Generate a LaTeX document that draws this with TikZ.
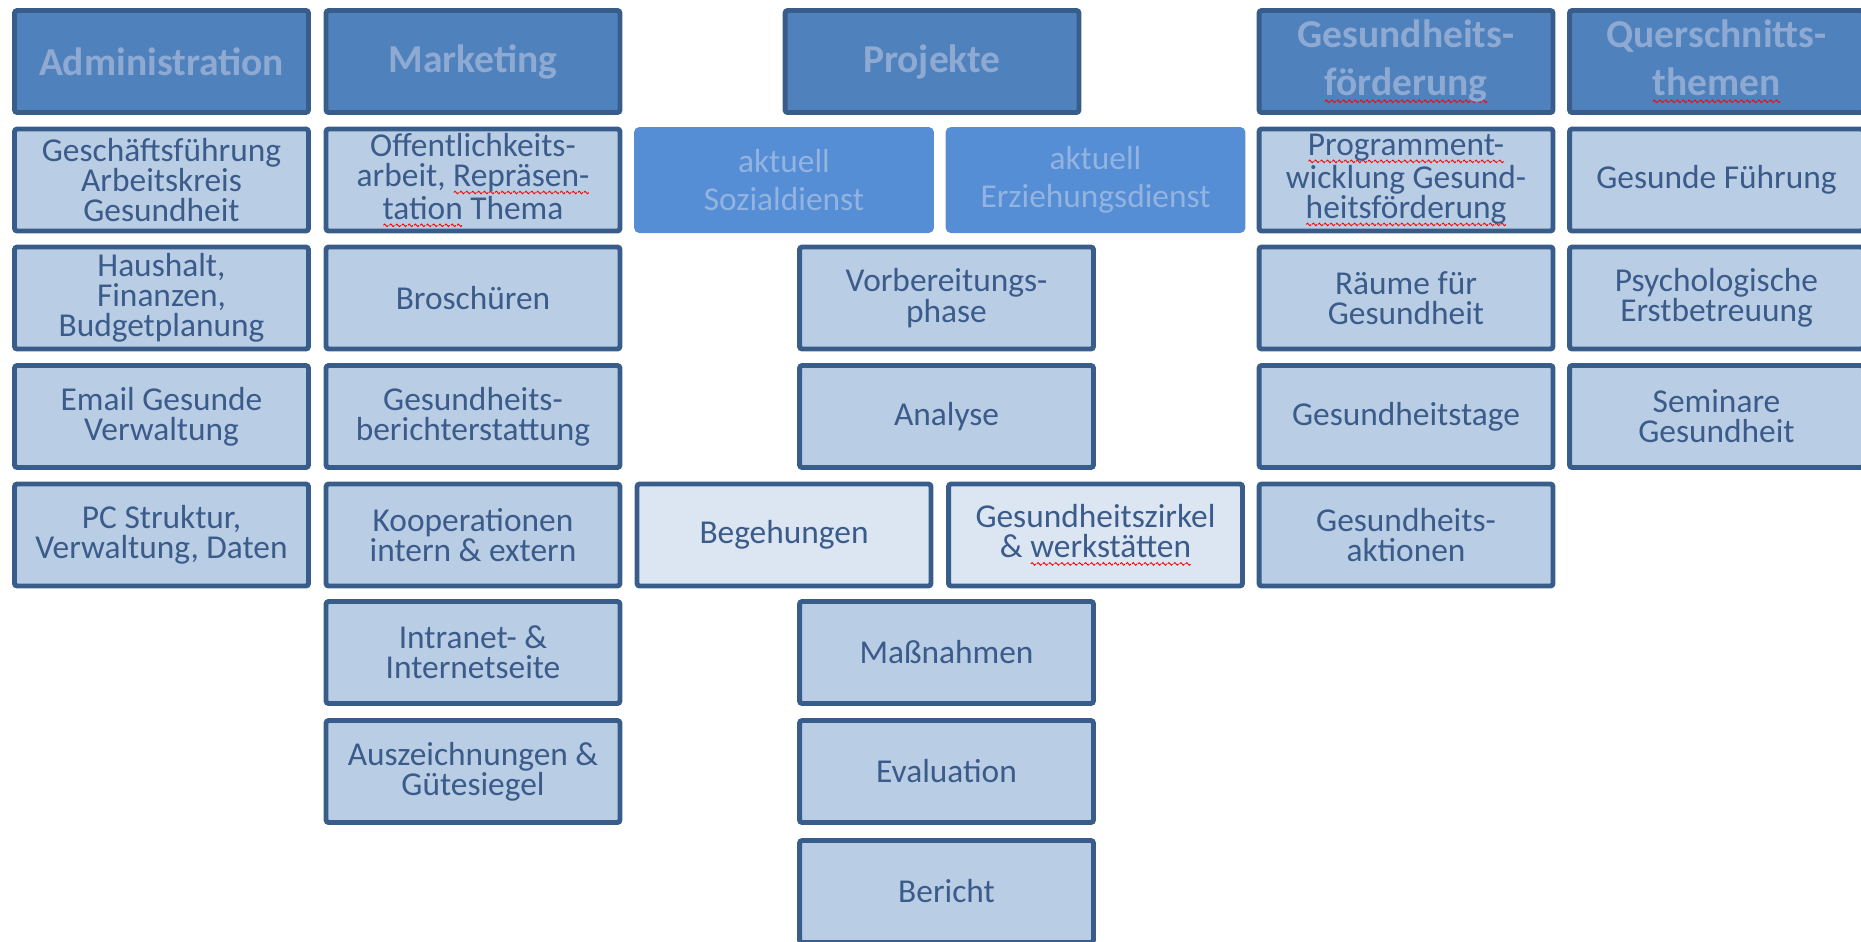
\documentclass[tikz,border=0pt]{standalone}
\usepackage{fontspec}
\setmainfont{Carlito}

\definecolor{kopfblau}{HTML}{4F81BD}
\definecolor{randblau}{HTML}{385D8A}
\definecolor{feldblau}{HTML}{B9CDE5}
\definecolor{hellblau}{HTML}{DCE6F2}
\definecolor{aktblau}{HTML}{558ED5}
\definecolor{schrift}{HTML}{3B5B8A}
\definecolor{kopfschrift}{HTML}{8FAAD2}
\definecolor{aktschrift}{HTML}{93B3E0}

% rote Wellenlinie unter einem Wort
\newsavebox\wellenbox
\newcommand\welle[1]{\leavevmode\setbox0\hbox{#1}%
  \rlap{\lower4.5pt\hbox to\wd0{\xleaders\copy\wellenbox\hfill}}\box0\relax}

\tikzset{
  kasten/.style={rectangle,rounded corners=1.5pt,draw=randblau,line width=2.8pt,
    minimum width=5.88cm,minimum height=2.04cm,align=center,inner sep=0pt},
  kopf/.style={kasten,fill=kopfblau,text=kopfschrift,font=\fontsize{22.5}{27}\selectfont\bfseries},
  feld/.style={kasten,fill=feldblau,text=schrift,font=\fontsize{19}{17.2}\selectfont},
  hell/.style={feld,fill=hellblau},
  aktuell/.style={rectangle,rounded corners=3pt,fill=aktblau,text=aktschrift,
    minimum width=6cm,minimum height=2.12cm,align=center,inner sep=0pt,
    font=\fontsize{19}{21.5}\selectfont}
}

\begin{document}
\sbox\wellenbox{\begin{pgfpicture}
  \pgfsetcolor{red}\pgfsetlinewidth{0.5pt}
  \pgfpathmoveto{\pgfpoint{0pt}{0pt}}
  \pgfpathsine{\pgfpoint{0.7pt}{0.75pt}}
  \pgfpathcosine{\pgfpoint{0.7pt}{-0.75pt}}
  \pgfpathsine{\pgfpoint{0.7pt}{-0.75pt}}
  \pgfpathcosine{\pgfpoint{0.7pt}{0.75pt}}
  \pgfusepath{stroke}
\end{pgfpicture}}
\begin{tikzpicture}[x=0.02cm,y=-0.02cm]
  \useasboundingbox (0,0) rectangle (1861,941);
  \clip (0,0) rectangle (1861,941);
  % Kopfzeile
  \node[kopf] (adm) at (161.5,61.5) {Administration};
  \node[kopf] (mkt) at (473,61.5) {Marketing};
  \node[kopf] (prj) at (932,61.5) {Projekte};
  \node[kopf] (gf) at (1406,61.5) {Gesundheits-\\\welle{förderung}};
  \node[kopf] (qs) at (1716.5,61.5) {Querschnitts-\\\welle{themen}};
  % Administration
  \node[feld] (adm1) at (161.5,180) {Geschäftsführung\\Arbeitskreis\\Gesundheit};
  \node[feld] (adm2) at (161.5,298) {Haushalt,\\Finanzen,\\Budgetplanung};
  \node[feld] (adm3) at (161.5,416.5) {Email Gesunde\\Verwaltung};
  \node[feld] (adm4) at (161.5,535) {PC Struktur,\\Verwaltung, Daten};
  % Marketing
  \node[feld] (mkt1) at (473,180) {Offentlichkeits-\\arbeit, \welle{Repräsen-}\\\welle{tation} Thema};
  \node[feld] (mkt2) at (473,298) {Broschüren};
  \node[feld] (mkt3) at (473,416.5) {Gesundheits-\\berichterstattung};
  \node[feld] (mkt4) at (473,535) {Kooperationen\\intern \& extern};
  \node[feld] (mkt5) at (473,652.5) {Intranet- \&\\Internetseite};
  \node[feld] (mkt6) at (473,771.5) {Auszeichnungen \&\\Gütesiegel};
  % Projekte
  \node[aktuell] (soz) at (784,180) {aktuell\\Sozialdienst};
  \node[aktuell] (erz) at (1095.5,180) {aktuell\\Erziehungsdienst};
  \node[feld] (vor) at (946.5,298) {Vorbereitungs-\\phase};
  \node[feld] (ana) at (946.5,416.5) {Analyse};
  \node[hell] (beg) at (784,535) {Begehungen};
  \node[hell] (zirk) at (1095.5,535) {Gesundheitszirkel\\\& \welle{werkstätten}};
  \node[feld] (mas) at (946.5,652.5) {Maßnahmen};
  \node[feld] (eva) at (946.5,771.5) {Evaluation};
  \node[feld] (ber) at (946.5,891.5) {Bericht};
  % Gesundheitsfoerderung
  \node[feld] (gf1) at (1406,180) {\welle{Programment-}\\wicklung Gesund-\\\welle{heitsförderung}};
  \node[feld] (gf2) at (1406,298) {Räume für\\Gesundheit};
  \node[feld] (gf3) at (1406,416.5) {Gesundheitstage};
  \node[feld] (gf4) at (1406,535) {Gesundheits-\\aktionen};
  % Querschnittsthemen
  \node[feld] (qs1) at (1716.5,180) {Gesunde Führung};
  \node[feld] (qs2) at (1716.5,298) {Psychologische\\Erstbetreuung};
  \node[feld] (qs3) at (1716.5,416.5) {Seminare\\Gesundheit};
\end{tikzpicture}
\end{document}
